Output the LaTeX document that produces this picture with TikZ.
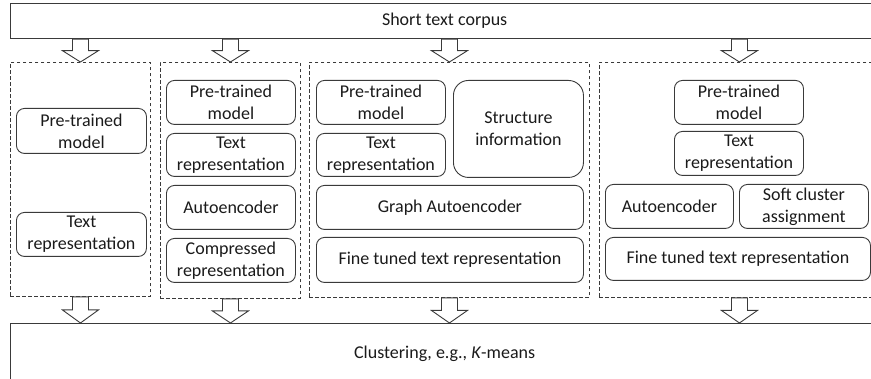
\documentclass[tikz,border=0pt]{standalone}
\usepackage{fontspec}
\setmainfont{Carlito}
\usetikzlibrary{calc}
\definecolor{edge}{HTML}{3A3A3A}
\definecolor{ink}{HTML}{1A1A1A}
\tikzset{
  outerbox/.style={draw=edge, line width=1.3pt, rectangle, inner sep=0pt, anchor=north west, text=ink},
  groupbox/.style={draw=edge, line width=0.9pt, dash pattern=on 3.5pt off 2.5pt, rectangle, inner sep=0pt, anchor=north west},
  stepbox/.style={draw=edge, line width=0.9pt, rounded corners=8pt, rectangle, inner sep=0pt, anchor=north west, align=center, text=ink},
  blockarrow/.style={draw=edge, line width=0.9pt, fill=white, line join=miter},
}
\newcommand\blockdown[2]{%
  \draw[blockarrow] let \p1=(#1), \p2=(#2), \n1={(\y1+\y2)/2} in
    (\x1-8pt,\y1) -- (\x1+8pt,\y1) -- (\x1+8pt,\n1) -- (\x1+18pt,\n1) -- (\x2,\y2)
    -- (\x1-18pt,\n1) -- (\x1-8pt,\n1) -- cycle;}
\begin{document}
\begin{tikzpicture}[x=1pt, y=-1pt, font=\fontsize{18pt}{22pt}\selectfont]
\useasboundingbox (0,0) rectangle (871,379);
\clip (0,0) rectangle (871,379);
% outer boxes
\node[outerbox, minimum width=868, minimum height=35] (top) at (10,3) {Short text corpus};
\node[outerbox, minimum width=868, minimum height=60] (bot) at (10,323) {Clustering, e.g., \textit{K}-means};
% group boxes
\node[groupbox, minimum width=140, minimum height=234] (d1) at (10,62) {};
\node[groupbox, minimum width=140, minimum height=236] (d2) at (160,62) {};
\node[groupbox, minimum width=280, minimum height=235] (d3) at (309,62) {};
\node[groupbox, minimum width=280, minimum height=235] (d4) at (599,62) {};
% group 1
\node[stepbox, minimum width=130, minimum height=45] (p1) at (16,108) {Pre-trained\\model};
\node[stepbox, minimum width=130, minimum height=44] (t1) at (16,212) {Text\\representation};
% group 2
\node[stepbox, minimum width=129, minimum height=44] (p2) at (166,80) {Pre-trained\\model};
\node[stepbox, minimum width=129, minimum height=43] (t2) at (166,133) {Text\\representation};
\node[stepbox, minimum width=129, minimum height=44] (a2) at (166,185) {Autoencoder};
\node[stepbox, minimum width=129, minimum height=44] (c2) at (166,238) {Compressed\\representation};
% group 3
\node[stepbox, minimum width=129, minimum height=44] (p3) at (316,80) {Pre-trained\\model};
\node[stepbox, minimum width=129, minimum height=43] (t3) at (316,133) {Text\\representation};
\node[stepbox, rounded corners=15pt, minimum width=130, minimum height=97] (s3) at (453,80) {Structure\\information};
\node[stepbox, minimum width=267, minimum height=44] (g3) at (316,185) {Graph Autoencoder};
\node[stepbox, minimum width=267, minimum height=45] (f3) at (316,237) {Fine tuned text representation};
% group 4
\node[stepbox, minimum width=129, minimum height=44] (p4) at (674,80) {Pre-trained\\model};
\node[stepbox, minimum width=129, minimum height=44] (t4) at (674,131) {Text\\representation};
\node[stepbox, minimum width=128, minimum height=44] (a4) at (605,184) {Autoencoder};
\node[stepbox, minimum width=129, minimum height=44] (sc4) at (739,184) {Soft cluster\\assignment};
\node[stepbox, minimum width=265, minimum height=43] (f4) at (605,237) {Fine tuned text representation};
% arrows
\blockdown{top.south -| d1.north}{d1.north}
\blockdown{top.south -| d2.north}{d2.north}
\blockdown{top.south -| d3.north}{d3.north}
\blockdown{top.south -| d4.north}{d4.north}
\blockdown{d1.south}{bot.north -| d1.south}
\blockdown{d2.south}{bot.north -| d2.south}
\blockdown{d3.south}{bot.north -| d3.south}
\blockdown{d4.south}{bot.north -| d4.south}
\end{tikzpicture}
\end{document}
